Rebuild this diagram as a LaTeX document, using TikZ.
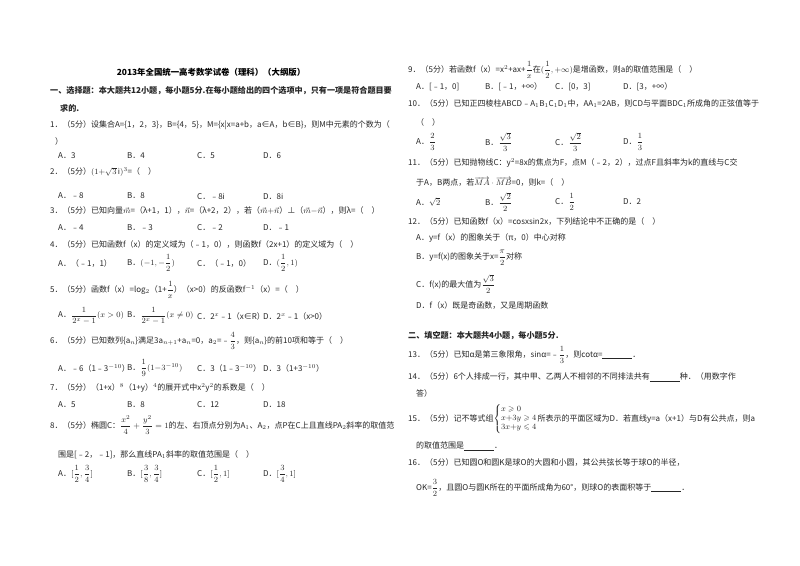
\documentclass[tikz,border=0pt]{standalone}
\usepackage{amsmath,amssymb}
\usepackage{fontspec}
\setmainfont{Noto Sans CJK SC}
\usetikzlibrary{positioning}
\newcounter{tn}
\newcommand\TT[3]{\stepcounter{tn}\node[txt] (t\arabic{tn}) at (#1pt,-#2pt) {#3};}
\newcommand\BB[3]{\stepcounter{tn}\node[txt,font=\fontsize{8.1}{9}\selectfont\bfseries] (t\arabic{tn}) at (#1pt,-#2pt) {#3};}
\newcommand\blankk{\underline{\hspace{30pt}}}
\begin{document}
\begin{tikzpicture}[txt/.style={anchor=west,inner sep=0pt,font=\fontsize{8}{9}\selectfont,text=black!85}]
\fill[white] (0,0) rectangle (800pt,-565pt);
\useasboundingbox (0,0) rectangle (800pt,-565pt);
\stepcounter{tn}\node[inner sep=0pt,font=\fontsize{8.4}{9}\selectfont\bfseries] (title) at (211pt,-72pt) {2013年全国统一高考数学试卷（理科）（大纲版）};
\BB{50}{91}{一、选择题：本大题共12小题，每小题5分.在每小题给出的四个选项中，只有一项是符合题目要}
\BB{60}{108}{求的.}
\TT{50}{125}{1．（5分）设集合A=\{1，2，3\}，B=\{4，5\}，M=\{x|x=a+b，a∈A，b∈B\}，则M中元素的个数为（}
\TT{55}{141}{）}
\TT{58}{156}{A．3} \TT{127}{156}{B．4} \TT{197}{156}{C．5} \TT{263}{156}{D．6}
\TT{50}{172}{2．（5分）$(1{+}\sqrt{3}\,\mathrm{i})^{3}$=（\quad ）}
\TT{58}{196}{A．﹣8} \TT{127}{196}{B．8} \TT{197}{196}{C．﹣8i} \TT{263}{196}{D．8i}
\TT{50}{211}{3．（5分）已知向量$\vec{m}$=（λ+1，1），$\vec{n}$=（λ+2，2），若（$\vec{m}{+}\vec{n}$）⊥（$\vec{m}{-}\vec{n}$），则λ=（\quad ）}
\TT{58}{228}{A．﹣4} \TT{127}{228}{B．﹣3} \TT{197}{228}{C．﹣2} \TT{263}{228}{D．﹣1}
\TT{50}{244}{4．（5分）已知函数f（x）的定义域为（﹣1，0），则函数f（2x+1）的定义域为（\quad ）}
\TT{58}{263}{A．（﹣1，1）} \TT{127}{263}{B．$(-1,-\dfrac{1}{2})$} \TT{197}{263}{C．（﹣1，0）} \TT{263}{263}{D．$(\dfrac{1}{2},1)$}
\TT{50}{290}{5．（5分）函数f（x）=log$_2$（1+$\dfrac{1}{x}$）（x>0）的反函数f$^{-1}$（x）=（\quad ）}
\TT{58}{316}{A．$\dfrac{1}{2^{x}-1}(x>0)$} \TT{127}{316}{B．$\dfrac{1}{2^{x}-1}(x\neq 0)$} \TT{197}{316}{C．2$^x$﹣1（x∈R）} \TT{263}{316}{D．2$^x$﹣1（x>0）}
\TT{50}{341}{6．（5分）已知数列\{a$_n$\}满足3a$_{n+1}$+a$_n$=0，a$_2$=﹣$\dfrac{4}{3}$，则\{a$_n$\}的前10项和等于（\quad ）}
\TT{58}{368}{A．﹣6（1﹣3$^{-10}$）} \TT{127}{368}{B．$\dfrac{1}{9}(1{-}3^{-10})$} \TT{197}{368}{C．3（1﹣3$^{-10}$）} \TT{263}{368}{D．3（1+3$^{-10}$）}
\TT{50}{388}{7．（5分）（1+x）$^8$（1+y）$^4$的展开式中x$^2$y$^2$的系数是（\quad ）}
\TT{58}{405}{A．5} \TT{127}{405}{B．8} \TT{197}{405}{C．12} \TT{263}{405}{D．18}
\TT{50}{425}{8．（5分）椭圆C：$\dfrac{x^2}{4}+\dfrac{y^2}{3}=1$的左、右顶点分别为A$_1$、A$_2$，点P在C上且直线PA$_2$斜率的取值范}
\TT{58}{455}{围是[﹣2，﹣1]，那么直线PA$_1$斜率的取值范围是（\quad ）}
\TT{58}{474}{A．$[\dfrac{1}{2},\dfrac{3}{4}]$} \TT{127}{474}{B．$[\dfrac{3}{8},\dfrac{3}{4}]$} \TT{197}{474}{C．$[\dfrac{1}{2},1]$} \TT{263}{474}{D．$[\dfrac{3}{4},1]$}
% right column
\TT{408}{70}{9．（5分）若函数f（x）=x$^2$+ax+$\dfrac{1}{x}$在$(\dfrac{1}{2},+\infty)$是增函数，则a的取值范围是（\quad ）}
\TT{416}{87}{A．[﹣1，0]} \TT{485}{87}{B．[﹣1，+∞）} \TT{555}{87}{C．[0，3]} \TT{623}{87}{D．[3，+∞）}
\TT{408}{104}{10．（5分）已知正四棱柱ABCD﹣A$_1$B$_1$C$_1$D$_1$中，AA$_1$=2AB，则CD与平面BDC$_1$所成角的正弦值等于}
\TT{416}{122}{（\quad ）}
\TT{416}{142}{A．$\dfrac{2}{3}$} \TT{485}{142}{B．$\dfrac{\sqrt3}{3}$} \TT{555}{142}{C．$\dfrac{\sqrt2}{3}$} \TT{623}{142}{D．$\dfrac{1}{3}$}
\TT{408}{163}{11．（5分）已知抛物线C：y$^2$=8x的焦点为F，点M（﹣2，2），过点F且斜率为k的直线与C交}
\TT{416}{182}{于A，B两点，若$\overrightarrow{MA}\cdot\overrightarrow{MB}$=0，则k=（\quad ）}
\TT{416}{202}{A．$\sqrt2$} \TT{485}{202}{B．$\dfrac{\sqrt2}{2}$} \TT{555}{202}{C．$\dfrac{1}{2}$} \TT{623}{202}{D．2}
\TT{408}{222}{12．（5分）已知函数f（x）=cosxsin2x，下列结论中不正确的是（\quad ）}
\TT{416}{238}{A．y=f（x）的图象关于（π，0）中心对称}
\TT{416}{258}{B．y=f(x)的图象关于x=$\dfrac{\pi}{2}$对称}
\TT{416}{284}{C．f(x)的最大值为$\dfrac{\sqrt3}{2}$}
\TT{416}{305}{D．f（x）既是奇函数，又是周期函数}
\BB{408}{336}{二、填空题：本大题共4小题，每小题5分.}
\TT{408}{355}{13．（5分）已知α是第三象限角，sinα=﹣$\dfrac{1}{3}$，则cotα=\blankk．}
\TT{408}{377}{14．（5分）6个人排成一行，其中甲、乙两人不相邻的不同排法共有\blankk 种．（用数字作}
\TT{416}{393}{答）}
\TT{408}{419}{15．（5分）记不等式组$\left\{\begin{array}{@{}l@{}}x\geqslant0\\ x{+}3y\geqslant4\\ 3x{+}y\leqslant4\end{array}\right.$所表示的平面区域为D．若直线y=a（x+1）与D有公共点，则a}
\TT{416}{446}{的取值范围是\blankk．}
\TT{408}{462}{16．（5分）已知圆O和圆K是球O的大圆和小圆，其公共弦长等于球O的半径，}
\TT{416}{488}{OK=$\dfrac{3}{2}$，且圆O与圆K所在的平面所成角为60°，则球O的表面积等于\blankk．}
\end{tikzpicture}
\end{document}
